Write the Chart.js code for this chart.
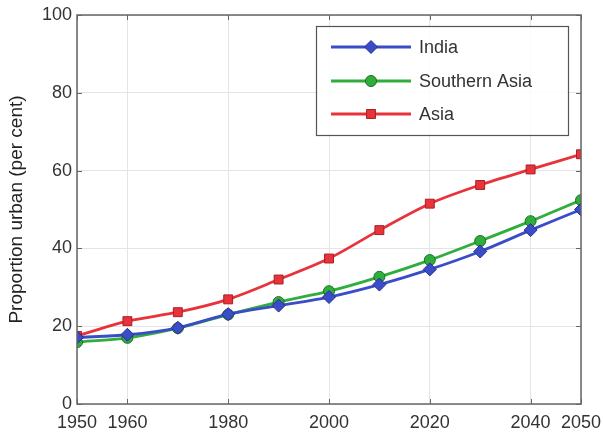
<!DOCTYPE html>
<html>
<head>
<meta charset="utf-8">
<script src="https://cdn.jsdelivr.net/npm/chart.js@4.4.1/dist/chart.umd.min.js"></script>
<style>
  html, body { margin: 0; padding: 0; background: #ffffff; }
  #wrap { width: 603px; height: 438px; position: relative; }
</style>
</head>
<body>
<div id="wrap"><canvas id="c" width="603" height="438"></canvas></div>
<script>
// Urban share of population, per cent, by decade
const years = [1950, 1960, 1970, 1980, 1990, 2000, 2010, 2020, 2030, 2040, 2050];
const india = [17.1, 17.8, 19.6, 23.1, 25.3, 27.5, 30.7, 34.6, 39.2, 44.7, 50.0];
const southernAsia = [15.9, 17.0, 19.5, 23.0, 26.2, 29.0, 32.7, 37.0, 41.9, 47.0, 52.4];
const asia = [17.5, 21.3, 23.6, 26.9, 32.0, 37.4, 44.7, 51.5, 56.3, 60.3, 64.2];
const xTicks = [1950, 1960, 1980, 2000, 2020, 2040, 2050];
const yTicks = [0, 20, 40, 60, 80, 100];

const FONT = "'Liberation Sans', Arial, sans-serif";
const AXIS = '#666666';
const TEXT = '#333333';

function series(label, values, color, edge, style, radius) {
  return {
    label: label,
    data: years.map((y, i) => ({ x: y, y: values[i] })),
    borderColor: color,
    backgroundColor: color,
    pointBackgroundColor: color,
    pointBorderColor: edge,
    pointBorderWidth: 1,
    pointStyle: style,
    pointRadius: radius,
    pointHoverRadius: radius,
    borderWidth: 2.8,
    tension: 0.3,
    fill: false
  };
}

// Frame with inward tick marks on all four sides
const framePlugin = {
  id: 'frame',
  afterDatasetsDraw(chart) {
    const { ctx, chartArea: a, scales } = chart;
    ctx.save();
    ctx.strokeStyle = AXIS;
    ctx.lineWidth = 1.5;
    ctx.strokeRect(a.left, a.top, a.right - a.left, a.bottom - a.top);
    ctx.lineWidth = 1;
    const L = 5;
    xTicks.forEach(v => {
      const px = Math.round(scales.x.getPixelForValue(v)) + 0.5;
      ctx.beginPath();
      ctx.moveTo(px, a.bottom); ctx.lineTo(px, a.bottom - L);
      ctx.moveTo(px, a.top); ctx.lineTo(px, a.top + L);
      ctx.stroke();
    });
    yTicks.forEach(v => {
      const py = Math.round(scales.y.getPixelForValue(v)) + 0.5;
      ctx.beginPath();
      ctx.moveTo(a.left, py); ctx.lineTo(a.left + L, py);
      ctx.moveTo(a.right, py); ctx.lineTo(a.right - L, py);
      ctx.stroke();
    });
    ctx.restore();
  }
};

// Boxed legend with line-and-marker samples
const legendPlugin = {
  id: 'boxLegend',
  afterDraw(chart) {
    const { ctx } = chart;
    const bx = 316, by = 26, bw = 252, bh = 109;
    ctx.save();
    ctx.fillStyle = 'rgba(255,255,255,0.85)';
    ctx.fillRect(bx, by, bw, bh);
    ctx.strokeStyle = '#555555';
    ctx.lineWidth = 1.2;
    ctx.strokeRect(bx + 0.5, by + 0.5, bw, bh);
    const rows = [47, 81, 114];
    chart.data.datasets.forEach((ds, i) => {
      const y = rows[i];
      ctx.strokeStyle = ds.borderColor;
      ctx.lineWidth = 2.8;
      ctx.beginPath();
      ctx.moveTo(331, y); ctx.lineTo(411, y);
      ctx.stroke();
      ctx.fillStyle = ds.pointBackgroundColor;
      ctx.strokeStyle = ds.pointBorderColor;
      ctx.lineWidth = 1;
      Chart.helpers.drawPoint(ctx, { pointStyle: ds.pointStyle, radius: ds.pointRadius, borderWidth: 1 }, 371, y);
      ctx.fillStyle = TEXT;
      ctx.font = '18px ' + FONT;
      ctx.textBaseline = 'middle';
      ctx.textAlign = 'left';
      ctx.fillText(ds.label, 419, y + 1);
    });
    ctx.restore();
  }
};

new Chart(document.getElementById('c'), {
  type: 'line',
  data: {
    datasets: [
      series('India', india, '#3b4cc8', '#26328a', 'rectRot', 6.5),
      series('Southern Asia', southernAsia, '#2fae3c', '#1d6e27', 'circle', 5.5),
      series('Asia', asia, '#e8333a', '#a81f24', 'rect', 6.3)
    ]
  },
  options: {
    responsive: false,
    animation: false,
    events: [],
    layout: { padding: { top: 15, right: 22, left: 0, bottom: 0 } },
    plugins: { legend: { display: false }, tooltip: { enabled: false } },
    scales: {
      x: {
        type: 'linear',
        min: 1950, max: 2050,
        afterBuildTicks(s) { s.ticks = xTicks.map(v => ({ value: v })); },
        afterFit(s) { s.height = 34; s.paddingLeft = 0; s.paddingRight = 0; },
        grid: { color: '#e4e4e4', lineWidth: 1, drawTicks: false },
        border: { display: false },
        ticks: { color: TEXT, font: { family: FONT, size: 18 }, padding: 8, maxRotation: 0, autoSkip: false, callback: v => String(v) }
      },
      y: {
        min: 0, max: 100,
        afterBuildTicks(s) { s.ticks = yTicks.map(v => ({ value: v })); },
        afterFit(s) { s.width = 77; s.paddingTop = 0; s.paddingBottom = 0; },
        grid: { color: '#e4e4e4', lineWidth: 1, drawTicks: false },
        border: { display: false },
        title: { display: true, text: 'Proportion urban (per cent)', color: '#222222', font: { family: FONT, size: 19 }, padding: { top: 5, bottom: 0 } },
        ticks: { color: TEXT, font: { family: FONT, size: 18 }, padding: 5 }
      }
    }
  },
  plugins: [framePlugin, legendPlugin]
});
</script>
</body>
</html>
